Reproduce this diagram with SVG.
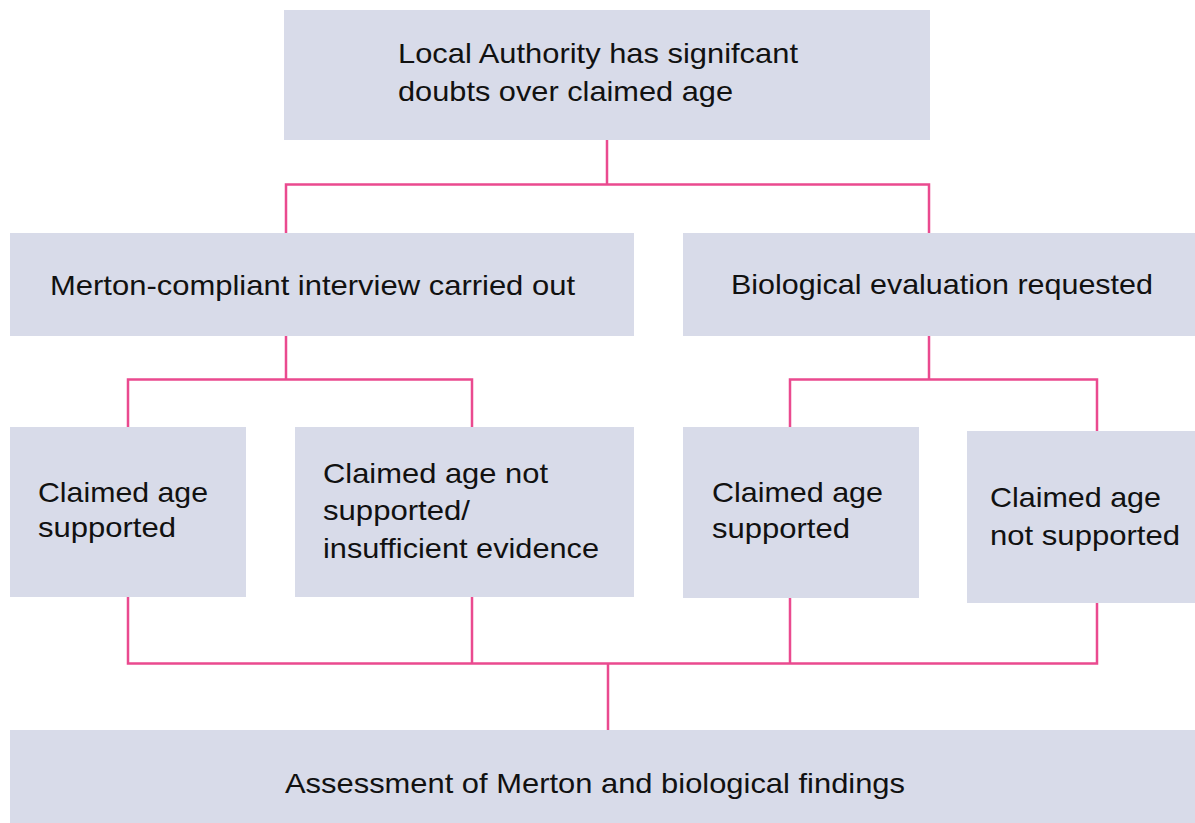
<svg xmlns="http://www.w3.org/2000/svg" width="1195" height="823" viewBox="0 0 1195 823">
<style>
.box{fill:#d8dbe9}
.t{font-family:"Liberation Sans",Arial,Helvetica,sans-serif;font-size:28px;fill:#111}
.c{fill:none;stroke:#ea4a8f;stroke-width:2.5;stroke-linejoin:miter;stroke-linecap:butt}
</style>
<rect width="1195" height="823" fill="#ffffff"/>
<g id="connectors">
<path class="c" d="M607 140V184.5M286 233V184.5H929V233"/>
<path class="c" d="M286 336V379.5M128 427V379.5H472V427"/>
<path class="c" d="M929 336V379.5M790 427V379.5H1097V431"/>
<path class="c" d="M128 597V663.5H1097V603M472 597V663.5M790 598V663.5M608 663.5V730"/>
</g>
<g id="n-top">
<rect class="box" x="284" y="10" width="646" height="130"/>
<text class="t" x="398" y="63" textLength="400" lengthAdjust="spacingAndGlyphs">Local Authority has signifcant</text>
<text class="t" x="398" y="101" textLength="335" lengthAdjust="spacingAndGlyphs">doubts over claimed age</text>
</g>
<g id="n-merton">
<rect class="box" x="10" y="233" width="624" height="103"/>
<text class="t" x="50" y="295" textLength="525" lengthAdjust="spacingAndGlyphs">Merton-compliant interview carried out</text>
</g>
<g id="n-bio">
<rect class="box" x="683" y="233" width="512" height="103"/>
<text class="t" x="731" y="294" textLength="422" lengthAdjust="spacingAndGlyphs">Biological evaluation requested</text>
</g>
<g id="n-m-supported">
<rect class="box" x="10" y="427" width="236" height="170"/>
<text class="t" x="38" y="502" textLength="170" lengthAdjust="spacingAndGlyphs">Claimed age</text>
<text class="t" x="38" y="537" textLength="138" lengthAdjust="spacingAndGlyphs">supported</text>
</g>
<g id="n-m-notsupported">
<rect class="box" x="295" y="427" width="339" height="170"/>
<text class="t" x="323" y="483" textLength="225" lengthAdjust="spacingAndGlyphs">Claimed age not</text>
<text class="t" x="323" y="520" textLength="147" lengthAdjust="spacingAndGlyphs">supported/</text>
<text class="t" x="323" y="558" textLength="276" lengthAdjust="spacingAndGlyphs">insufficient evidence</text>
</g>
<g id="n-b-supported">
<rect class="box" x="683" y="427" width="236" height="171"/>
<text class="t" x="712" y="502" textLength="171" lengthAdjust="spacingAndGlyphs">Claimed age</text>
<text class="t" x="712" y="538" textLength="138" lengthAdjust="spacingAndGlyphs">supported</text>
</g>
<g id="n-b-notsupported">
<rect class="box" x="967" y="431" width="228" height="172"/>
<text class="t" x="990" y="507" textLength="171" lengthAdjust="spacingAndGlyphs">Claimed age</text>
<text class="t" x="990" y="545" textLength="190" lengthAdjust="spacingAndGlyphs">not supported</text>
</g>
<g id="n-assessment">
<rect class="box" x="10" y="730" width="1185" height="93"/>
<text class="t" x="285" y="793" textLength="620" lengthAdjust="spacingAndGlyphs">Assessment of Merton and biological findings</text>
</g>
</svg>
